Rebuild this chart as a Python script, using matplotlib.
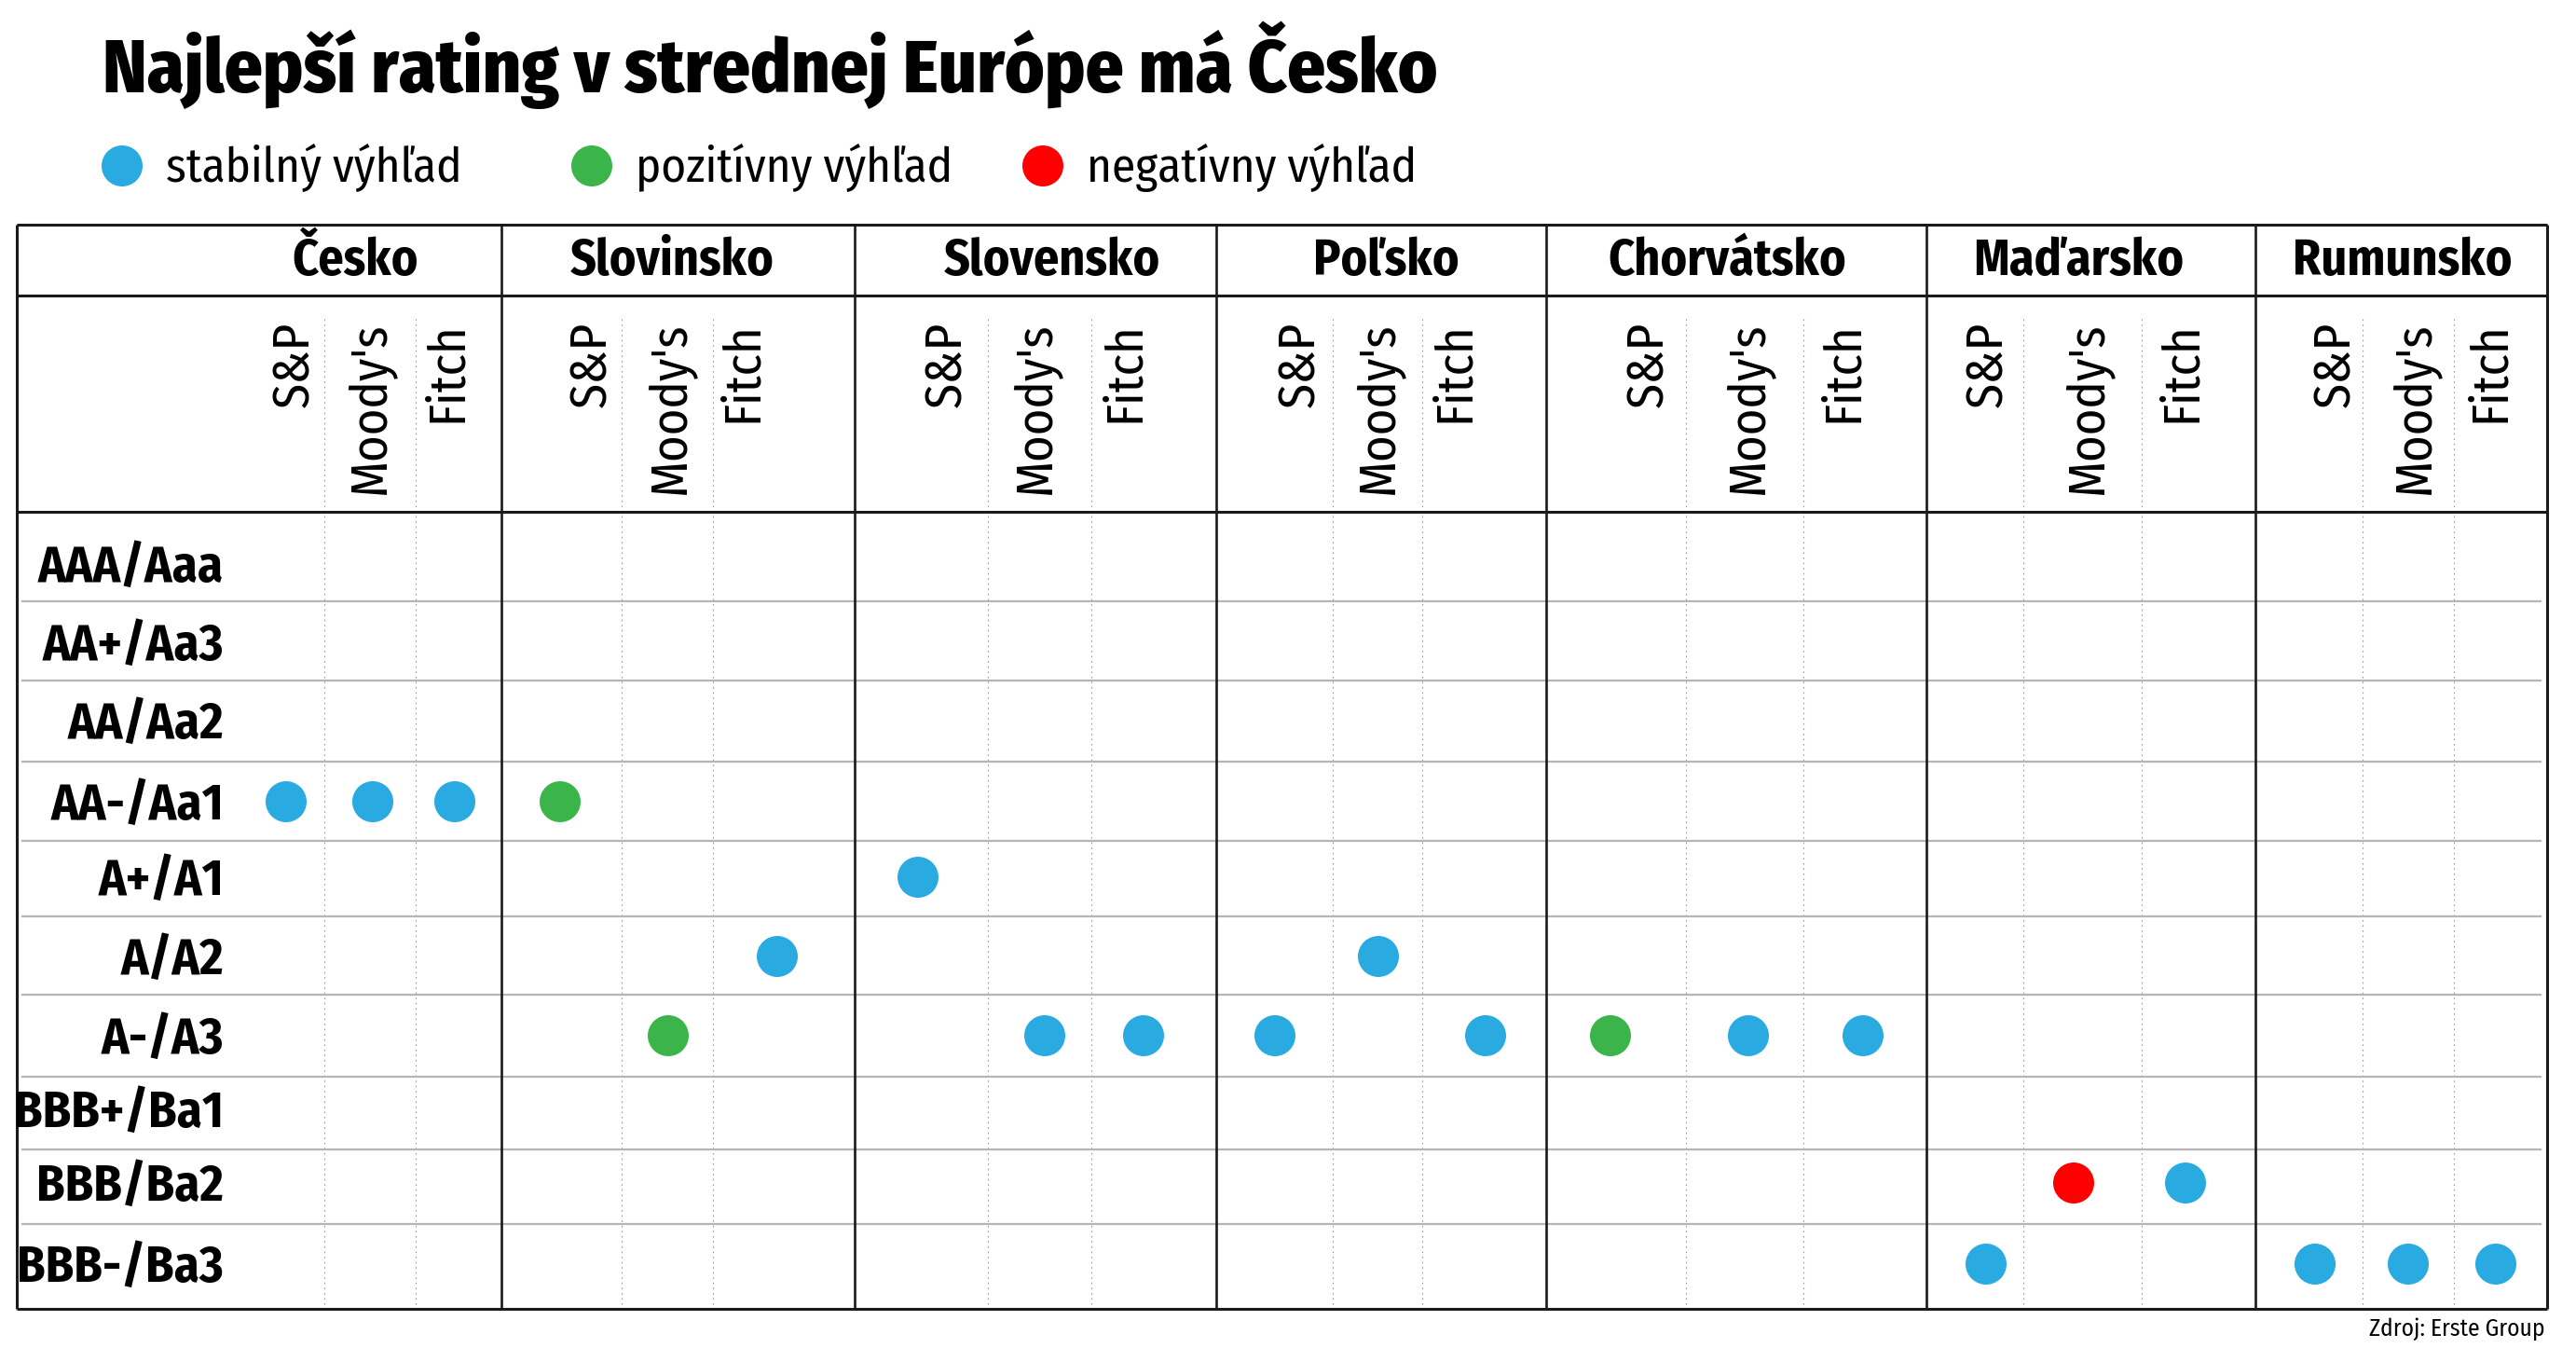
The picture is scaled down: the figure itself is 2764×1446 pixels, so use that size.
import matplotlib
matplotlib.use("Agg")
import matplotlib.pyplot as plt

# ---------------- data ----------------
title = "Najlepší rating v strednej Európe má Česko"
source = "Zdroj: Erste Group"

countries = ["Česko", "Slovinsko", "Slovensko", "Poľsko", "Chorvátsko", "Maďarsko", "Rumunsko"]
agencies = ["S&P", "Moody's", "Fitch"]
ratings = ["AAA/Aaa", "AA+/Aa3", "AA/Aa2", "AA-/Aa1", "A+/A1", "A/A2", "A-/A3",
           "BBB+/Ba1", "BBB/Ba2", "BBB-/Ba3"]

outlook_names = ["stabilný výhľad", "pozitívny výhľad", "negatívny výhľad"]
outlook_keys = ["stable", "positive", "negative"]

# rating of each country by agency (order of `countries`)
rating_sp = ["AA-/Aa1", "AA-/Aa1", "A+/A1", "A-/A3", "A-/A3", "BBB-/Ba3", "BBB-/Ba3"]
rating_moodys = ["AA-/Aa1", "A-/A3", "A-/A3", "A/A2", "A-/A3", "BBB/Ba2", "BBB-/Ba3"]
rating_fitch = ["AA-/Aa1", "A/A2", "A-/A3", "A-/A3", "A-/A3", "BBB/Ba2", "BBB-/Ba3"]

outlook_sp = ["stable", "positive", "stable", "stable", "positive", "stable", "stable"]
outlook_moodys = ["stable", "positive", "stable", "stable", "stable", "negative", "stable"]
outlook_fitch = ["stable", "stable", "stable", "stable", "stable", "stable", "stable"]

# ---------------- style / layout ----------------
COLORS = {"stable": "#29ABE2", "positive": "#3BB54A", "negative": "#FF0000"}
FONT = ["Fira Sans Condensed", "DejaVu Sans"]
W, H = 2764, 1446
DPI = 100

x_left, x_right = 18, 2733
y_top, y_head, y_sub, y_bottom = 241, 317, 549, 1404
country_bounds = [18, 538, 917, 1305, 1659, 2067, 2420, 2733]
sub_bounds = [(348, 446), (667, 765), (1060, 1171), (1430, 1526),
              (1809, 1935), (2171, 2298), (2535, 2633)]
# horizontal centre of each agency column (S&P, Moody's, Fitch) per country
col_x = [[307, 400, 488], [601, 717, 834], [985, 1121, 1227], [1368, 1479, 1594],
         [1728, 1876, 1999], [2131, 2225, 2345], [2484, 2584, 2678]]
label_x = [[316, 397, 480], [635, 719, 797], [1016, 1111, 1207], [1395, 1479, 1561],
           [1769, 1876, 1978], [2133, 2240, 2341], [2506, 2591, 2672]]
header_x = [381, 721, 1129, 1487, 1853, 2230, 2578]
row_bounds = [549, 645, 730, 817, 902, 983, 1067, 1155, 1233, 1313, 1404]
row_y = [605, 689, 773, 860, 941, 1026, 1111, 1190, 1269, 1356]
dot_px = 44
CAP = 0.689  # cap height / em for Fira Sans

fig = plt.figure(figsize=(W / DPI, H / DPI), dpi=DPI)
ax = fig.add_axes([0, 0, 1, 1])
ax.set_xlim(0, W)
ax.set_ylim(H, 0)
ax.axis("off")
renderer = fig.canvas.get_renderer()


def fit_size(text, target_px, weight, base=40):
    t = fig.text(0, 0, text, fontsize=base, family=FONT, weight=weight)
    w = t.get_window_extent(renderer).width
    t.remove()
    return base * target_px / w


def cap_px(size):
    return size * DPI / 72 * CAP


# title
ts = fit_size(title, 1431, "heavy")
ax.text(110, 99, title, fontsize=ts, family=FONT, weight="heavy",
        ha="left", va="baseline", color="black")

# legend
ls = fit_size(outlook_names[0], 318, "normal")
leg_x = [131, 635, 1119]
for i, (name, key) in enumerate(zip(outlook_names, outlook_keys)):
    ax.scatter([leg_x[i]], [178], s=(dot_px * 72 / DPI) ** 2, color=COLORS[key],
               edgecolors="none", zorder=5)
    ax.text(leg_x[i] + 47, 195, name, fontsize=ls, family=FONT, weight="normal",
            ha="left", va="baseline", color="black")

# grid lines
dark = "#1a1a1a"
lw_dark = 2.2
for y in (y_top, y_head, y_sub, y_bottom):
    ax.plot([x_left, x_right], [y, y], color=dark, lw=lw_dark, solid_capstyle="butt", zorder=3)
for x in country_bounds:
    ax.plot([x, x], [y_top, y_bottom], color=dark, lw=1.9 if x not in (x_left, x_right) else lw_dark,
            solid_capstyle="butt", zorder=3)
for y in row_bounds[1:-1]:
    ax.plot([x_left + 6, x_right - 7], [y, y], color="#b5b5b5", lw=1.6, zorder=2)
for (a, b) in sub_bounds:
    for x in (a, b):
        ax.plot([x, x], [342, y_bottom], color="#9a9a9a", lw=0.8,
                linestyle=(0, (1.5, 3.5)), zorder=1)

# country headers
hs = fit_size("Slovinsko", 219, "bold")
for i, c in enumerate(countries):
    ax.text(header_x[i], 276 + cap_px(hs) / 2, c, fontsize=hs, family=FONT,
            weight="bold", ha="center", va="baseline", color="black")

# agency labels (rotated)
ss = fit_size("Moody's", 185, "normal")
for i in range(len(countries)):
    for j, a in enumerate(agencies):
        ax.text(label_x[i][j], 345, a, fontsize=ss, family=FONT, weight="normal",
                rotation=90, ha="center", va="top", color="black")

# row labels
rs = fit_size("AAA/Aaa", 199, "bold")
for k, r in enumerate(ratings):
    ax.text(240, row_y[k] + cap_px(rs) / 2, r, fontsize=rs, family=FONT, weight="bold",
            ha="right", va="baseline", color="black")

# dots
agency_ratings = [rating_sp, rating_moodys, rating_fitch]
agency_outlooks = [outlook_sp, outlook_moodys, outlook_fitch]
for j in range(len(agencies)):
    xs, ys, cs = [], [], []
    for i in range(len(countries)):
        xs.append(col_x[i][j])
        ys.append(row_y[ratings.index(agency_ratings[j][i])])
        cs.append(COLORS[agency_outlooks[j][i]])
    ax.scatter(xs, ys, s=(dot_px * 72 / DPI) ** 2, c=cs, edgecolors="none", zorder=5)

# source
srs = fit_size(source, 189, "normal")
ax.text(2731, 1433, source, fontsize=srs, family=FONT, weight="normal",
        ha="right", va="baseline", color="black")

fig.savefig("out.png", dpi=DPI)
